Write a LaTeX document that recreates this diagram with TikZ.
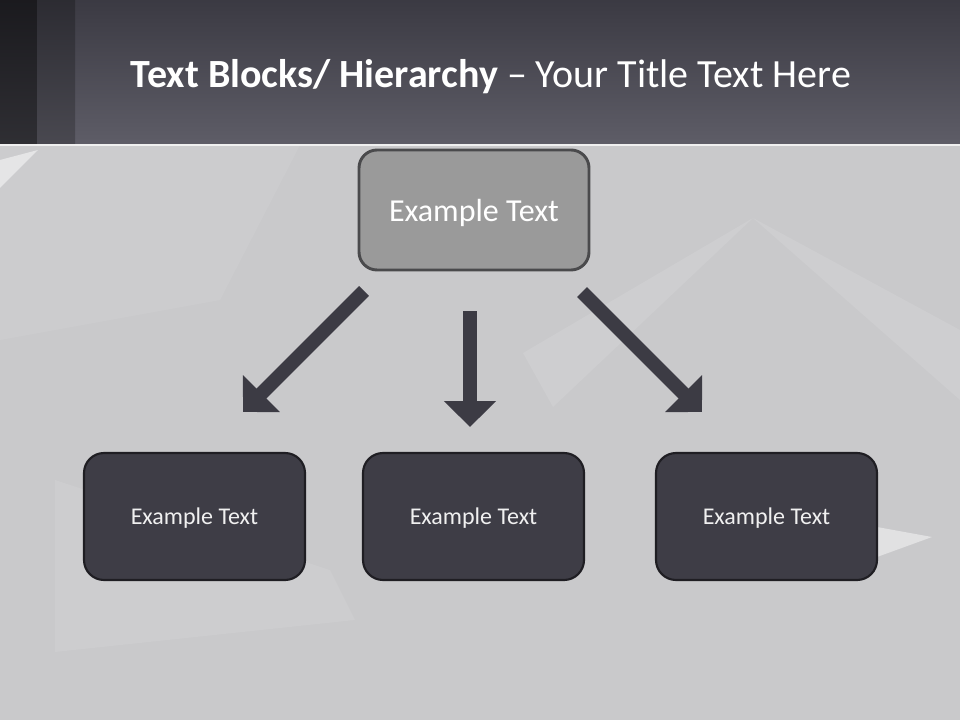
\documentclass[tikz,border=0pt]{standalone}
\usepackage{fontspec}
\setmainfont{Carlito}
\usetikzlibrary{arrows.meta}
\definecolor{bgpage}{HTML}{C9C9CB}
\definecolor{facet}{HTML}{D3D3D5}
\definecolor{bartop}{HTML}{3B3A43}
\definecolor{barbot}{HTML}{5E5D67}
\definecolor{darkbox}{HTML}{3E3D46}
\definecolor{darkline}{HTML}{1F1E23}
\definecolor{headbox}{HTML}{9A9A9A}
\definecolor{headline}{HTML}{4A4A4C}
\definecolor{arrowfill}{HTML}{3C3B44}
\begin{document}
\begin{tikzpicture}[x=0.75pt,y=-0.75pt,
  headblock/.style={draw=headline,line width=2.2pt,fill=headbox,rounded corners=13.5pt,
    minimum width=172.5pt,minimum height=90pt,text height=23pt,text depth=6pt,text=white,font=\fontsize{24}{28}\selectfont},
  subblock/.style={draw=darkline,line width=1.6pt,fill=darkbox,rounded corners=15pt,
    minimum width=165.75pt,minimum height=95.25pt,text height=16.7pt,text depth=4.5pt,text=white!94!black,font=\fontsize{18}{22}\selectfont},
  blockarrow/.style={arrowfill,line width=10.5pt,-{Triangle[width=38pt,length=19.5pt]}}]
\useasboundingbox (0,0) rectangle (960,720);
% background
\fill[bgpage] (0,0) rectangle (960,720);
\fill[facet,opacity=0.35] (0,145) -- (300,145) -- (220,300) -- (0,340) -- cycle;
\fill[facet,opacity=0.5] (753,218) -- (523,353) -- (553,407) -- cycle;
\fill[facet,opacity=0.5] (753,218) -- (960,330) -- (960,400) -- cycle;
\fill[facet,opacity=0.4] (55,480) -- (330,570) -- (355,620) -- (55,652) -- cycle;
\fill[white,opacity=0.45] (877,527) -- (932,537) -- (877,557) -- cycle;
\fill[white,opacity=0.5] (0,160) -- (38,150) -- (0,188) -- cycle;
% title bar
\shade[top color=bartop,bottom color=barbot] (0,0) rectangle (960,145);
\shade[top color=black!55!bartop,bottom color=black!50!barbot] (0,0) rectangle (37,145);
\shade[top color=black!25!bartop,bottom color=black!22!barbot] (37,0) rectangle (75,145);
\draw[white!70!bgpage,line width=0.8pt] (0,145) -- (960,145);
\node (title) at (491,77) {\fontsize{30}{36}\selectfont\color{white}\textbf{Text Blocks/ Hierarchy} – Your Title Text Here};

% blocks
\node[headblock] (top) at (474,210) {Example Text};
\node[subblock] (left) at (194.5,516.5) {Example Text};
\node[subblock] (mid) at (473.5,516.5) {Example Text};
\node[subblock] (right) at (766.5,516.5) {Example Text};

% arrows
\coordinate (ls) at (364,291);
\coordinate (le) at (243,412);
\coordinate (ms) at (470,311);
\coordinate (me) at (470,427);
\coordinate (rs) at (582,292);
\coordinate (re) at (702,412);
\draw[blockarrow] (ls) -- (le);
\draw[blockarrow] (ms) -- (me);
\draw[blockarrow] (rs) -- (re);
\end{tikzpicture}
\end{document}
